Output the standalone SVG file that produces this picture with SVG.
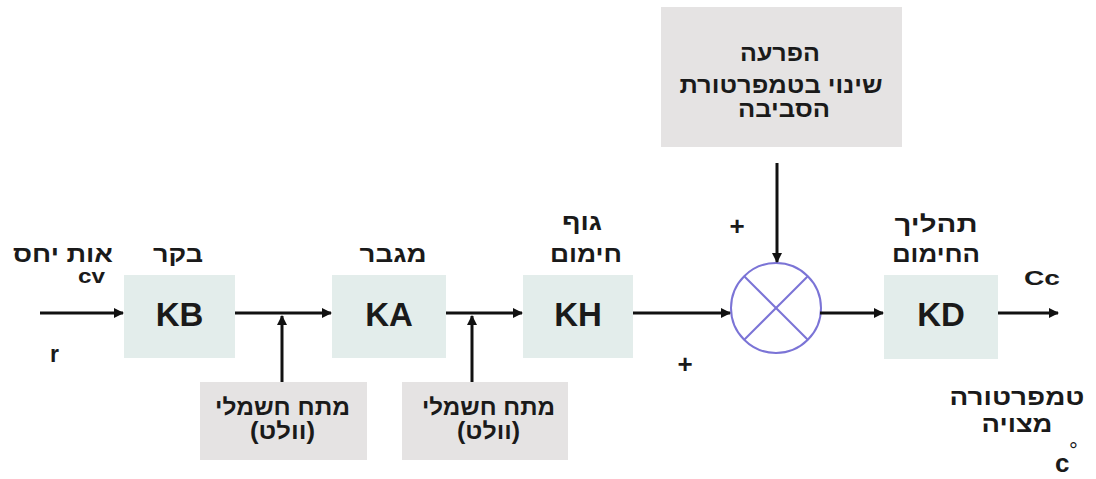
<svg xmlns="http://www.w3.org/2000/svg" width="1096" height="479" viewBox="0 0 1096 479">
<style>
  .blk{fill:#e3edeb;}
  .gry{fill:#e5e3e3;}
  .he{font-family:"Liberation Sans","DejaVu Sans",sans-serif;font-weight:bold;font-size:23px;fill:#1a1a1a;text-anchor:middle;direction:rtl;}
  .big{font-family:"Liberation Sans",Arial,sans-serif;font-weight:bold;font-size:33px;fill:#1a1a1a;text-anchor:middle;}
  .lat{font-family:"Liberation Sans",Arial,sans-serif;font-weight:bold;fill:#1a1a1a;}
  .ln{stroke:#111;stroke-width:3;fill:none;}
</style>
<defs>
  <marker id="ah" markerWidth="10" markerHeight="10" refX="9" refY="5" orient="auto" markerUnits="userSpaceOnUse">
    <path d="M0,0 L10,5 L0,10 Z" fill="#111"/>
  </marker>
</defs>
<rect width="1096" height="479" fill="#ffffff"/>

<g id="input">
  <text class="he" x="63" y="262" textLength="100" lengthAdjust="spacingAndGlyphs">אות יחס</text>
  <text class="lat" x="78" y="283" style="font-size:20px" textLength="27" lengthAdjust="spacingAndGlyphs">cv</text>
  <text class="lat" x="50" y="362" style="font-size:23px">r</text>
</g>

<g id="KB">
  <rect class="blk" x="124" y="275" width="111" height="83"/>
  <text class="big" x="179.5" y="326">KB</text>
  <text class="he" x="178" y="262" textLength="50" lengthAdjust="spacingAndGlyphs">בקר</text>
</g>

<g id="KA">
  <rect class="blk" x="332" y="275" width="114" height="83"/>
  <text class="big" x="389" y="326">KA</text>
  <text class="he" x="393" y="262" textLength="67" lengthAdjust="spacingAndGlyphs">מגבר</text>
</g>

<g id="KH">
  <rect class="blk" x="523" y="275" width="110" height="83"/>
  <text class="big" x="578" y="326">KH</text>
  <text class="he" x="582" y="230" textLength="40" lengthAdjust="spacingAndGlyphs">גוף</text>
  <text class="he" x="586" y="262" textLength="72" lengthAdjust="spacingAndGlyphs">חימום</text>
</g>

<g id="KD">
  <rect class="blk" x="884" y="275" width="114" height="84"/>
  <text class="big" x="941" y="326">KD</text>
  <text class="he" x="936" y="232" textLength="83" lengthAdjust="spacingAndGlyphs">תהליך</text>
  <text class="he" x="936" y="262" textLength="88" lengthAdjust="spacingAndGlyphs">החימום</text>
</g>

<g id="output">
  <text class="lat" x="1024" y="285" style="font-size:21px" textLength="36" lengthAdjust="spacingAndGlyphs">Cc</text>
  <text class="he" x="1017" y="405" textLength="135" lengthAdjust="spacingAndGlyphs">טמפרטורה</text>
  <text class="he" x="1017" y="432" textLength="71" lengthAdjust="spacingAndGlyphs">מצויה</text>
  <text class="lat" x="1055" y="472" style="font-size:26px">c</text>
  <text class="lat" x="1069" y="458" style="font-size:22px;font-weight:normal">°</text>
</g>

<g id="disturbance">
  <rect class="gry" x="661" y="7" width="241" height="140"/>
  <text class="he" x="780" y="61" textLength="80" lengthAdjust="spacingAndGlyphs">הפרעה</text>
  <text class="he" x="781" y="93" textLength="203" lengthAdjust="spacingAndGlyphs">שינוי בטמפרטורת</text>
  <text class="he" x="784" y="117" textLength="92" lengthAdjust="spacingAndGlyphs">הסביבה</text>
</g>

<g id="voltage1">
  <rect class="gry" x="200" y="382" width="167" height="78"/>
  <text class="he" x="282.5" y="415" textLength="135" lengthAdjust="spacingAndGlyphs">מתח חשמלי</text>
  <text class="he" x="282.5" y="439" textLength="65" lengthAdjust="spacingAndGlyphs">(וולט)</text>
</g>

<g id="voltage2">
  <rect class="gry" x="402" y="382" width="166" height="78"/>
  <text class="he" x="488.5" y="415" textLength="133" lengthAdjust="spacingAndGlyphs">מתח חשמלי</text>
  <text class="he" x="488.5" y="439" textLength="63" lengthAdjust="spacingAndGlyphs">(וולט)</text>
</g>

<g id="summing">
  <circle cx="776" cy="308" r="45" fill="#ffffff" stroke="#7b74d6" stroke-width="2"/>
  <line x1="744.2" y1="276.2" x2="807.8" y2="339.8" stroke="#7b74d6" stroke-width="2"/>
  <line x1="807.8" y1="276.2" x2="744.2" y2="339.8" stroke="#7b74d6" stroke-width="2"/>
  <text class="lat" x="737" y="235" style="font-size:26px" text-anchor="middle">+</text>
  <text class="lat" x="685" y="373" style="font-size:26px" text-anchor="middle">+</text>
</g>

<g id="connectors">
  <line class="ln" x1="40" y1="313" x2="123" y2="313" marker-end="url(#ah)"/>
  <line class="ln" x1="235" y1="313" x2="331" y2="313" marker-end="url(#ah)"/>
  <line class="ln" x1="282" y1="382" x2="282" y2="316" marker-end="url(#ah)"/>
  <line class="ln" x1="446" y1="313" x2="522" y2="313" marker-end="url(#ah)"/>
  <line class="ln" x1="472" y1="382" x2="472" y2="316" marker-end="url(#ah)"/>
  <line class="ln" x1="633" y1="313" x2="730" y2="313" marker-end="url(#ah)"/>
  <line class="ln" x1="777" y1="163" x2="777" y2="262" marker-end="url(#ah)"/>
  <line class="ln" x1="820" y1="313" x2="883" y2="313" marker-end="url(#ah)"/>
  <line class="ln" x1="998" y1="313" x2="1058" y2="313" marker-end="url(#ah)"/>
</g>
</svg>
